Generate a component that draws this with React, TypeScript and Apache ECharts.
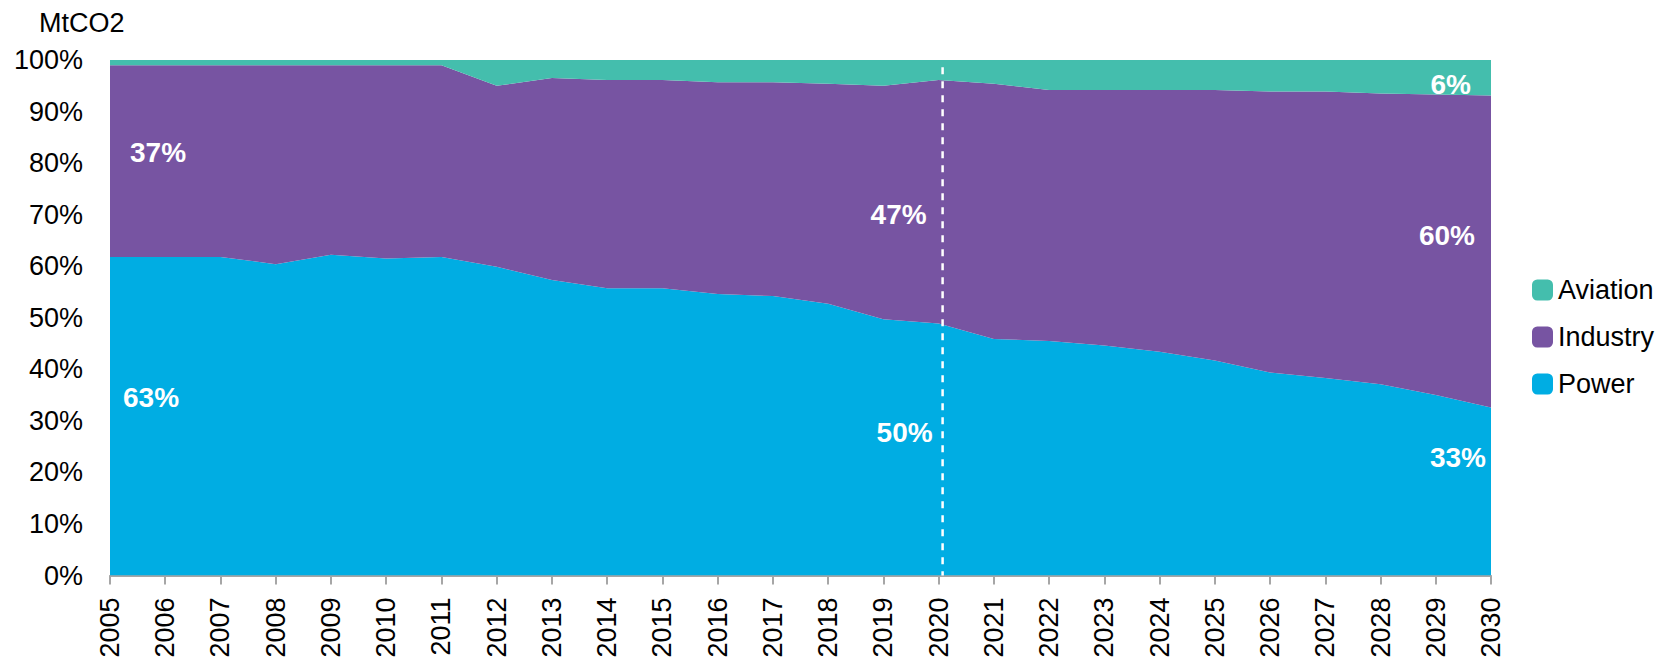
import React, { useEffect, useRef } from "react";
import * as echarts from "echarts";

const years = [
  "2005", "2006", "2007", "2008", "2009", "2010", "2011", "2012", "2013",
  "2014", "2015", "2016", "2017", "2018", "2019", "2020", "2021", "2022",
  "2023", "2024", "2025", "2026", "2027", "2028", "2029", "2030",
];

const power = [
  61.8, 61.8, 61.8, 60.4, 62.2, 61.5, 61.8, 59.9, 57.3, 55.7, 55.7, 54.6, 54.2,
  52.7, 49.7, 48.9, 45.9, 45.5, 44.6, 43.4, 41.7, 39.4, 38.3, 37.1, 35.0, 32.6,
];

const industry = [
  37.2, 37.2, 37.2, 38.6, 36.8, 37.5, 37.2, 35.1, 39.2, 40.4, 40.4, 41.1, 41.5,
  42.7, 45.3, 47.2, 49.5, 48.7, 49.6, 50.8, 52.5, 54.5, 55.6, 56.4, 58.3, 60.5,
];

const aviation = [
  1.0, 1.0, 1.0, 1.0, 1.0, 1.0, 1.0, 5.0, 3.5, 3.9, 3.9, 4.3, 4.3,
  4.6, 5.0, 3.9, 4.6, 5.8, 5.8, 5.8, 5.8, 6.1, 6.1, 6.5, 6.7, 6.9,
];

const seriesNames = ["Power", "Industry", "Aviation"];
const legendOrder = ["Aviation", "Industry", "Power"];
const colors = { Power: "#00ade3", Industry: "#7754a2", Aviation: "#44bead" };

const yMin = 0;
const yMax = 100;
const yInterval = 10;

const unitLabel = "MtCO2";
const dividerYear = "2020";

// Annotation texts anchored to data positions
const notes = [
  { text: "37%", year: "2005", value: 82.1, dx: 20, align: "left" },
  { text: "63%", year: "2005", value: 34.6, dx: 13, align: "left" },
  { text: "47%", year: "2020", value: 70.1, dx: -12, align: "right" },
  { text: "50%", year: "2020", value: 27.7, dx: -6, align: "right" },
  { text: "6%", year: "2030", value: 95.3, dx: -20, align: "right" },
  { text: "60%", year: "2030", value: 66.0, dx: -16, align: "right" },
  { text: "33%", year: "2030", value: 22.9, dx: -5, align: "right" },
];

const FONT = '"Liberation Sans", Arial, Helvetica, sans-serif';

export default function App() {
  const ref = useRef<HTMLDivElement>(null);

  useEffect(() => {
    if (!ref.current) return;
    const chart = echarts.init(ref.current, null, { renderer: "svg" });
    const dataMap: Record<string, number[]> = {
      Power: power,
      Industry: industry,
      Aviation: aviation,
    };
    chart.setOption({
      animation: false,
      backgroundColor: "#ffffff",
      textStyle: { fontFamily: FONT },
      title: {
        text: unitLabel,
        left: 39,
        top: 9,
        padding: 0,
        textStyle: {
          fontFamily: FONT,
          fontSize: 27,
          fontWeight: "normal",
          color: "#000",
          lineHeight: 27,
        },
      },
      grid: { left: 110, right: 173, top: 60, bottom: 86.5, containLabel: false },
      legend: {
        orient: "vertical",
        left: 1532,
        top: 276.5,
        padding: 0,
        itemWidth: 21,
        itemHeight: 21,
        itemGap: 20,
        icon: "roundRect",
        data: legendOrder,
        textStyle: {
          fontFamily: FONT,
          fontSize: 27,
          color: "#000",
          lineHeight: 27,
        },
      },
      xAxis: {
        type: "category",
        data: years,
        boundaryGap: false,
        axisLine: { show: true, lineStyle: { color: "#a6a6a6", width: 2 } },
        axisTick: { show: true, length: 9, lineStyle: { color: "#a6a6a6", width: 2 } },
        axisLabel: {
          rotate: 90,
          margin: 22,
          fontSize: 27,
          color: "#000",
          fontFamily: FONT,
          interval: 0,
        },
        splitLine: { show: false },
      },
      yAxis: {
        type: "value",
        min: yMin,
        max: yMax,
        interval: yInterval,
        axisLine: { show: false },
        axisTick: { show: false },
        splitLine: { show: false },
        axisLabel: {
          formatter: "{value}%",
          margin: 27,
          fontSize: 27,
          color: "#000",
          fontFamily: FONT,
        },
      },
      series: seriesNames.map((name) => ({
        name,
        type: "line",
        stack: "total",
        data: dataMap[name],
        symbol: "none",
        showSymbol: false,
        lineStyle: { width: 0, color: (colors as any)[name] },
        itemStyle: { color: (colors as any)[name] },
        areaStyle: { color: (colors as any)[name], opacity: 1 },
        emphasis: { disabled: true },
      })),
    });

    const graphics: any[] = [];
    const top = chart.convertToPixel({ gridIndex: 0 }, [dividerYear, 98.6]) as number[];
    const bottom = chart.convertToPixel({ gridIndex: 0 }, [dividerYear, 0]) as number[];
    graphics.push({
      type: "line",
      z: 100,
      shape: { x1: top[0] + 4, y1: top[1], x2: bottom[0] + 4, y2: bottom[1] },
      style: { stroke: "#ffffff", lineWidth: 2.5, lineDash: [7, 7] },
      silent: true,
    });
    notes.forEach((n) => {
      const p = chart.convertToPixel({ gridIndex: 0 }, [n.year, n.value]) as number[];
      graphics.push({
        type: "text",
        z: 101,
        x: p[0] + n.dx,
        y: p[1],
        silent: true,
        style: {
          text: n.text,
          fill: "#ffffff",
          fontSize: 28,
          fontWeight: "bold",
          fontFamily: FONT,
          align: n.align,
          verticalAlign: "middle",
          textAlign: n.align,
          textVerticalAlign: "middle",
        },
      });
    });
    chart.setOption({ graphic: graphics });

    return () => {
      chart.dispose();
    };
  }, []);

  return (
    <div
      ref={ref}
      style={{ position: "fixed", left: 0, top: 0, width: "1664px", height: "662px" }}
    />
  );
}
